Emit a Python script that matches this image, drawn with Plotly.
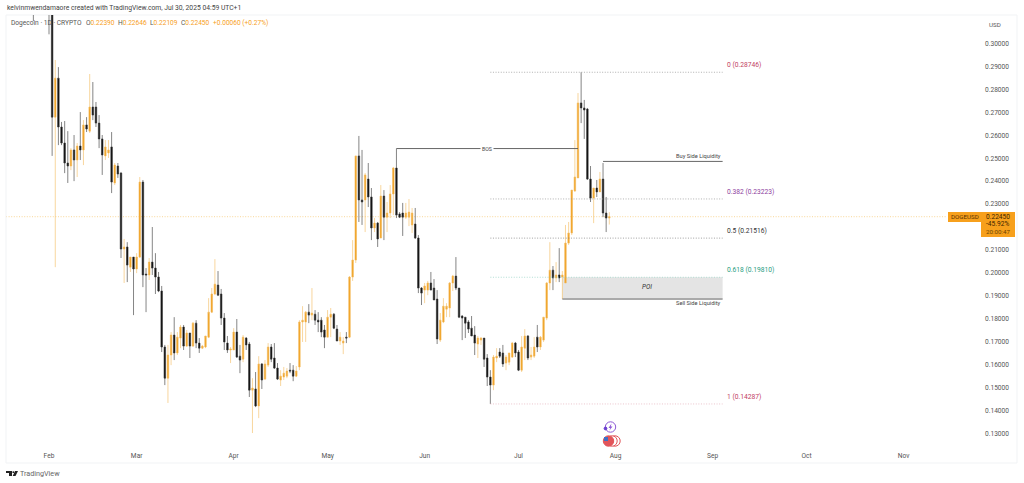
import pandas as pd
import plotly.graph_objects as go

dates = pd.date_range("2025-01-27", "2025-07-30")

opens = [
    0.332, 0.325, 0.335, 0.325, 0.335, 0.330, 0.320, 0.2679, 0.2849, 0.2636,
    0.2566, 0.2479, 0.2466, 0.2536, 0.2492, 0.2553, 0.2536, 0.2645, 0.2618, 0.2723,
    0.2723, 0.2653, 0.2584, 0.2510, 0.2523, 0.2549, 0.2392, 0.2466, 0.2435, 0.2104,
    0.2113, 0.2025, 0.2069, 0.2017, 0.2069, 0.2396, 0.1995, 0.1991, 0.2047, 0.2021,
    0.1982, 0.1921, 0.1677, 0.1541, 0.1642, 0.1729, 0.1651, 0.1716, 0.1764, 0.1681,
    0.1738, 0.1681, 0.1781, 0.1694, 0.1672, 0.1677, 0.1720, 0.1829, 0.1908, 0.1947,
    0.1908, 0.1803, 0.1694, 0.1664, 0.1664, 0.1742, 0.1637, 0.1624, 0.1716, 0.1690,
    0.1489, 0.1494, 0.1420, 0.1603, 0.1537, 0.1598, 0.1677, 0.1629, 0.1585, 0.1533,
    0.1546, 0.1550, 0.1576, 0.1576, 0.1550, 0.1590, 0.1786, 0.1786, 0.1829, 0.1816,
    0.1820, 0.1794, 0.1794, 0.1751, 0.1720, 0.1807, 0.1820, 0.1755, 0.1703, 0.1694,
    0.1720, 0.1720, 0.1982, 0.2056, 0.2510, 0.2318, 0.2318, 0.2409, 0.2331, 0.2196,
    0.2217, 0.2152, 0.2335, 0.2243, 0.2261, 0.2344, 0.2457, 0.2257, 0.2261, 0.2243,
    0.2243, 0.2209, 0.2213, 0.2152, 0.1934, 0.1925, 0.1925, 0.1956, 0.1934, 0.1886,
    0.1707, 0.1786, 0.1842, 0.1847, 0.1956, 0.1986, 0.1934, 0.1812, 0.1807, 0.1786,
    0.1759, 0.1729, 0.1690, 0.1707, 0.1716, 0.1629, 0.1546, 0.1511, 0.1629, 0.1655,
    0.1651, 0.1607, 0.1611, 0.1633, 0.1694, 0.1655, 0.1576, 0.1672, 0.1725, 0.1633,
    0.1637, 0.1720, 0.1677, 0.1707, 0.1803, 0.1956, 0.2012, 0.1978, 0.1991, 0.1982,
    0.1956, 0.2130, 0.2174, 0.2357, 0.2414, 0.2741, 0.2719, 0.2714, 0.2409, 0.2326,
    0.2370, 0.2353, 0.2409, 0.2261, 0.2239,
]
highs = [
    0.335, 0.345, 0.345, 0.345, 0.345, 0.340, 0.325, 0.2928, 0.2897, 0.2658,
    0.2662, 0.2618, 0.2544, 0.2601, 0.2566, 0.2701, 0.2666, 0.2679, 0.2867, 0.2832,
    0.2745, 0.2688, 0.2601, 0.2579, 0.2579, 0.2614, 0.2479, 0.2479, 0.2440, 0.2148,
    0.2134, 0.2069, 0.2069, 0.2086, 0.2418, 0.2405, 0.2021, 0.2065, 0.2200, 0.2086,
    0.2004, 0.1943, 0.1686, 0.1686, 0.1742, 0.1807, 0.1742, 0.1773, 0.1773, 0.1751,
    0.1738, 0.1786, 0.1794, 0.1716, 0.1686, 0.1725, 0.1890, 0.1934, 0.2060, 0.2008,
    0.1930, 0.1825, 0.1725, 0.1677, 0.1759, 0.1799, 0.1686, 0.1729, 0.1720, 0.1699,
    0.1541, 0.1568, 0.1637, 0.1607, 0.1620, 0.1694, 0.1690, 0.1694, 0.1607, 0.1576,
    0.1590, 0.1585, 0.1607, 0.1598, 0.1594, 0.1794, 0.1855, 0.1834, 0.1864, 0.1934,
    0.1838, 0.1829, 0.1807, 0.1773, 0.1838, 0.1847, 0.1825, 0.1773, 0.1742, 0.1720,
    0.1742, 0.1986, 0.2143, 0.2510, 0.2597, 0.2536, 0.2435, 0.2479, 0.2370, 0.2239,
    0.2222, 0.2383, 0.2361, 0.2309, 0.2383, 0.2462, 0.2542, 0.2265, 0.2305, 0.2305,
    0.2322, 0.2283, 0.2283, 0.2165, 0.1938, 0.1956, 0.1965, 0.2004, 0.1973, 0.1925,
    0.1825, 0.1890, 0.1868, 0.1960, 0.1991, 0.2069, 0.1934, 0.1816, 0.1807, 0.1794,
    0.1812, 0.1768, 0.1725, 0.1720, 0.1716, 0.1646, 0.1576, 0.1642, 0.1672, 0.1672,
    0.1686, 0.1642, 0.1651, 0.1699, 0.1699, 0.1664, 0.1725, 0.1755, 0.1729, 0.1677,
    0.1720, 0.1773, 0.1725, 0.1807, 0.1960, 0.2134, 0.2030, 0.2047, 0.2108, 0.2008,
    0.2209, 0.2222, 0.2361, 0.2579, 0.2784, 0.28746, 0.2754, 0.2719, 0.2466, 0.2370,
    0.2405, 0.2440, 0.2479, 0.2331, 0.22646,
]
lows = [
    0.3098, 0.318, 0.320, 0.318, 0.320, 0.304, 0.251, 0.2025, 0.2557, 0.2557,
    0.2435, 0.2392, 0.2448, 0.2400, 0.2418, 0.2492, 0.2470, 0.2614, 0.2610, 0.2666,
    0.2636, 0.2544, 0.2427, 0.2492, 0.2501, 0.2348, 0.2383, 0.2414, 0.2065, 0.1956,
    0.1960, 0.2004, 0.1816, 0.1999, 0.2065, 0.1938, 0.1829, 0.1969, 0.1991, 0.1908,
    0.1916, 0.1655, 0.1511, 0.1433, 0.1598, 0.1620, 0.1642, 0.1672, 0.1664, 0.1677,
    0.1629, 0.1677, 0.1672, 0.1651, 0.1668, 0.1672, 0.1716, 0.1825, 0.1903, 0.1899,
    0.1773, 0.1664, 0.1651, 0.1607, 0.1664, 0.1629, 0.1563, 0.1611, 0.1664, 0.1459,
    0.1302, 0.1415, 0.1367, 0.1494, 0.1533, 0.1590, 0.1611, 0.1581, 0.1533, 0.1507,
    0.1533, 0.1541, 0.1563, 0.1528, 0.1546, 0.1576, 0.1699, 0.1699, 0.1781, 0.1794,
    0.1773, 0.1742, 0.1720, 0.1672, 0.1720, 0.1720, 0.1755, 0.1703, 0.1686, 0.1646,
    0.1694, 0.1716, 0.1965, 0.2043, 0.2222, 0.2209, 0.2178, 0.2287, 0.2143, 0.2178,
    0.2113, 0.2152, 0.2143, 0.2178, 0.2239, 0.2252, 0.2239, 0.2239, 0.2161, 0.2235,
    0.2204, 0.2174, 0.2148, 0.1912, 0.1860, 0.1868, 0.1903, 0.1925, 0.1882, 0.1690,
    0.1699, 0.1781, 0.1807, 0.1807, 0.1921, 0.1925, 0.1803, 0.1707, 0.1716, 0.1738,
    0.1725, 0.1642, 0.1629, 0.1686, 0.1590, 0.1507, 0.14287, 0.1489, 0.1611, 0.1629,
    0.1590, 0.1576, 0.1598, 0.1629, 0.1633, 0.1572, 0.1568, 0.1620, 0.1620, 0.1620,
    0.1629, 0.1655, 0.1664, 0.1699, 0.1794, 0.1925, 0.1925, 0.1960, 0.1960, 0.1886,
    0.1956, 0.2122, 0.2165, 0.2353, 0.2414, 0.2653, 0.2584, 0.2405, 0.2309, 0.2217,
    0.2331, 0.2353, 0.2243, 0.2178, 0.22109,
]
closes = [
    0.325, 0.335, 0.325, 0.335, 0.325, 0.320, 0.2679, 0.2849, 0.2636, 0.2566,
    0.2479, 0.2466, 0.2536, 0.2492, 0.2553, 0.2536, 0.2645, 0.2627, 0.2723, 0.2688,
    0.2653, 0.2584, 0.2514, 0.2549, 0.2536, 0.2396, 0.2470, 0.2431, 0.2104, 0.2113,
    0.2034, 0.2069, 0.2017, 0.2069, 0.2396, 0.1991, 0.1991, 0.2047, 0.2021, 0.1982,
    0.1921, 0.1677, 0.1541, 0.1642, 0.1729, 0.1651, 0.1720, 0.1764, 0.1681, 0.1738,
    0.1681, 0.1781, 0.1694, 0.1672, 0.1681, 0.1725, 0.1829, 0.1908, 0.1951, 0.1903,
    0.1803, 0.1699, 0.1664, 0.1668, 0.1742, 0.1633, 0.1620, 0.1720, 0.1686, 0.1489,
    0.1498, 0.1420, 0.1603, 0.1533, 0.1603, 0.1677, 0.1624, 0.1585, 0.1537, 0.1550,
    0.1563, 0.1572, 0.1572, 0.1550, 0.1572, 0.1786, 0.1794, 0.1829, 0.1816, 0.1825,
    0.1794, 0.1786, 0.1742, 0.1720, 0.1807, 0.1820, 0.1759, 0.1703, 0.1720, 0.1703,
    0.1716, 0.1982, 0.2056, 0.2510, 0.2318, 0.2309, 0.2427, 0.2331, 0.2196, 0.2217,
    0.2148, 0.2335, 0.2243, 0.2261, 0.2344, 0.2457, 0.2252, 0.2243, 0.2243, 0.2261,
    0.2265, 0.2261, 0.2152, 0.1934, 0.1912, 0.1943, 0.1956, 0.1925, 0.1882, 0.1712,
    0.1794, 0.1855, 0.1855, 0.1956, 0.1986, 0.1934, 0.1807, 0.1803, 0.1781, 0.1755,
    0.1725, 0.1694, 0.1716, 0.1716, 0.1624, 0.1546, 0.1511, 0.1633, 0.1637, 0.1637,
    0.1603, 0.1633, 0.1651, 0.1694, 0.1651, 0.1576, 0.1677, 0.1725, 0.1629, 0.1642,
    0.1677, 0.1677, 0.1720, 0.1807, 0.1956, 0.2012, 0.1978, 0.1991, 0.1978, 0.1991,
    0.2130, 0.2174, 0.2361, 0.2418, 0.2741, 0.2719, 0.2710, 0.2409, 0.2326, 0.2370,
    0.2353, 0.2409, 0.2261, 0.2239, 0.22450,
]

fib_levels = ["0", "0.382", "0.5", "0.618", "1"]
fib_prices = [0.28746, 0.23223, 0.21516, 0.19810, 0.14287]
fib_line_colors = ["#8f8f8f", "#8f8f8f", "#777777", "#8fd0c2", "#e3aab6"]
fib_text_colors = ["#c2405f", "#8e3fa0", "#333333", "#1f9d80", "#c2405f"]
fib_start = "2025-06-22"
fib_end = "2025-09-04 05:00"

month_ticks = ["2025-02-01", "2025-03-01", "2025-04-01", "2025-05-01", "2025-06-01",
               "2025-07-01", "2025-08-01", "2025-09-01", "2025-10-01", "2025-11-01"]
month_labels = ["Feb", "Mar", "Apr", "May", "Jun", "Jul", "Aug", "Sep", "Oct", "Nov"]
price_ticks = [0.13, 0.14, 0.15, 0.16, 0.17, 0.18, 0.19, 0.20, 0.21,
               0.23, 0.24, 0.25, 0.26, 0.27, 0.28, 0.29, 0.30]

last_price = 0.22450
bos_price = 0.2542
bos_start, bos_end = "2025-05-23", "2025-07-20"
buy_price = 0.2486
buy_start = "2025-07-28"
sell_price = 0.1886
poi_top = 0.19810
poi_start = "2025-07-15"

ORANGE = "#f7a01c"
TEXT = "#555555"
FONT = "Roboto"
SMALL = dict(family=FONT, size=6.6, color=TEXT)
DOTS = "1px,1.6px"

# pane corners in page pixels
LEFT, RIGHT, TOP, BOTTOM = 6, 981, 15, 445


def px(x):
    return (x - LEFT) / (RIGHT - LEFT)


def py(y):
    return (BOTTOM - y) / (BOTTOM - TOP)


def poly(points, color):
    path = "M " + " L ".join(f"{px(x):.5f} {py(y):.5f}" for x, y in points) + " Z"
    return dict(type="path", xref="paper", yref="paper", path=path,
                fillcolor=color, line_width=0, layer="above")


def circle(cx, cy, r, fill, line, width=1):
    return dict(type="circle", xref="paper", yref="paper",
                x0=px(cx - r), x1=px(cx + r), y0=py(cy + r), y1=py(cy - r),
                fillcolor=fill, line=dict(color=line, width=width), layer="above")


def note(x, y, text, anchor="left", font=SMALL, **kw):
    return dict(xref="paper", yref="paper", x=px(x), y=py(y), text=text, showarrow=False,
                xanchor=anchor, yanchor="middle", font=font, **kw)


fig = go.Figure()

fig.add_trace(go.Candlestick(
    x=dates, open=opens, high=highs, low=lows, close=closes,
    increasing=dict(line=dict(color="#f3bb5c", width=0.6), fillcolor="#f0a020"),
    decreasing=dict(line=dict(color="#333333", width=0.6), fillcolor="#0c0c0c"),
    whiskerwidth=0, showlegend=False,
))

for price, color in zip(fib_prices, fib_line_colors):
    fig.add_trace(go.Scatter(x=[fib_start, fib_end], y=[price, price], mode="lines",
                             line=dict(color=color, width=0.7, dash=DOTS),
                             showlegend=False))

for xs, ys in [([bos_start, bos_end], [bos_price, bos_price]),
               ([buy_start, fib_end], [buy_price, buy_price]),
               ([poi_start, fib_end], [sell_price, sell_price])]:
    fig.add_trace(go.Scatter(x=xs, y=ys, mode="lines",
                             line=dict(color="#555555", width=0.9), showlegend=False))

shapes = [
    # POI zone
    dict(type="rect", x0=poi_start, x1=fib_end, y0=sell_price, y1=poi_top,
         fillcolor="#e4e4e4", line_width=0, layer="below"),
    # last price line
    dict(type="line", xref="paper", x0=0, x1=px(947), y0=last_price, y1=last_price,
         line=dict(color="#f5bd55", width=0.6, dash=DOTS), layer="below"),
    # frame
    dict(type="rect", xref="paper", yref="paper", x0=0, x1=px(1017), y0=py(463), y1=1,
         line=dict(color="#f1f3f5", width=1), layer="below"),
    # price tags
    dict(type="rect", xref="paper", yref="paper", x0=px(948), x1=px(981), y0=py(222), y1=py(212),
         fillcolor=ORANGE, line_width=0, layer="above"),
    dict(type="rect", xref="paper", yref="paper", x0=px(981), x1=px(1015), y0=py(237), y1=py(212),
         fillcolor=ORANGE, line_width=0, layer="above"),
    # event icons
    circle(615, 441, 5.2, "#ffffff", "#e2555a"),
    circle(612, 441, 5.2, "#ffffff", "#e2555a"),
    circle(608.5, 441, 5.2, "#e2555a", "#e2555a"),
    poly([(604, 437), (608, 437), (608, 441), (604, 441)], "#3f6fc4"),
    circle(610.5, 427, 5.2, "#ffffff", "#8e5bd6"),
    circle(605.5, 428.5, 1.4, "#6a3fd0", "#6a3fd0"),
    poly([(611.5, 423.5), (608.5, 428), (610.3, 428), (609.5, 430.5), (612.5, 426.5), (610.8, 426.5)],
         "#8e5bd6"),
    # TradingView mark
    poly([(6, 471), (12, 471), (12, 476), (9, 476), (9, 473), (6, 473)], "#222222"),
    circle(13.3, 472.2, 0.9, "#222222", "#222222", 0),
    poly([(15, 471), (18, 471), (15.5, 476), (12.7, 476)], "#222222"),
]

annotations = [
    note(4.5, 8, "kelvinmwendamaore created with TradingView.com, Jul 30, 2025 04:59 UTC+1",
         font=dict(family=FONT, size=6.75, color="#444444")),
    note(9, 23, "Dogecoin · 1D · CRYPTO"),
    note(83.5, 23, f'O<span style="color:{ORANGE}">0.22390</span>'),
    note(116, 23, f'H<span style="color:{ORANGE}">0.22646</span>'),
    note(148, 23, f'L<span style="color:{ORANGE}">0.22109</span>'),
    note(179, 23, f'C<span style="color:{ORANGE}">0.22450</span>'),
    note(211, 23, "+0.00060 (+0.27%)", font=dict(family=FONT, size=6.6, color=ORANGE)),
    note(987, 25, "USD", font=dict(family=FONT, size=6.2, color=TEXT)),
    note(949, 217, "DOGEUSD", font=dict(family=FONT, size=6.2, color="#5a3200")),
    note(984, 217, "0.22450", font=dict(family=FONT, size=6.6, color="#3d2500")),
    note(984, 224.5, "-45.92%", font=dict(family=FONT, size=6.6, color="#3d2500")),
    note(984, 232, "20:00:47", font=dict(family=FONT, size=6.2, color="#6b4300")),
    note(17.5, 473.5, "TradingView", font=dict(family=FONT, size=7.2, color="#666666")),
    dict(x="2025-06-22", y=bos_price, text="BOS", showarrow=False, xshift=-3,
         font=dict(family=FONT, size=5.2, color="#444444"), bgcolor="#ffffff", borderpad=1),
    dict(x=fib_end, y=buy_price, text="Buy Side Liquidity", showarrow=False,
         xanchor="right", yshift=5, font=dict(family=FONT, size=5.7, color="#444444")),
    dict(x=fib_end, y=sell_price, text="Sell Side Liquidity", showarrow=False,
         xanchor="right", yshift=-4, font=dict(family=FONT, size=5.7, color="#444444")),
    dict(x="2025-08-11", y=0.1936, text="<i>POI</i>", showarrow=False, yshift=1,
         font=dict(family=FONT, size=6.4, color="#333333")),
]
for level, price, color in zip(fib_levels, fib_prices, fib_text_colors):
    annotations.append(dict(x=fib_end, y=price, text=f"{level} ({price:.5f})", showarrow=False,
                            xanchor="left", xshift=2, yshift=7,
                            font=dict(family=FONT, size=6.7, color=color)))

fig.update_layout(
    width=1024, height=483,
    margin=dict(l=LEFT, r=1024 - RIGHT, t=TOP, b=483 - BOTTOM, autoexpand=False),
    paper_bgcolor="#ffffff", plot_bgcolor="#ffffff",
    showlegend=False, shapes=shapes, annotations=annotations,
    xaxis=dict(range=["2025-01-18 06:15", "2025-11-25 18:00"], rangeslider_visible=False,
               showgrid=False, zeroline=False, showline=False, ticks="",
               tickmode="array", tickvals=month_ticks, ticktext=month_labels,
               tickfont=SMALL, tickangle=0, ticklabelstandoff=5),
    yaxis=dict(range=[0.12498, 0.31242], side="right", showgrid=False, zeroline=False,
               showline=False, ticks="", tickmode="array", tickvals=price_ticks,
               tickformat=".5f", tickfont=SMALL, ticklabelstandoff=3),
)

fig.write_html("out.html", config={"displayModeBar": False},
               post_script="document.body.style.margin = '0';")
